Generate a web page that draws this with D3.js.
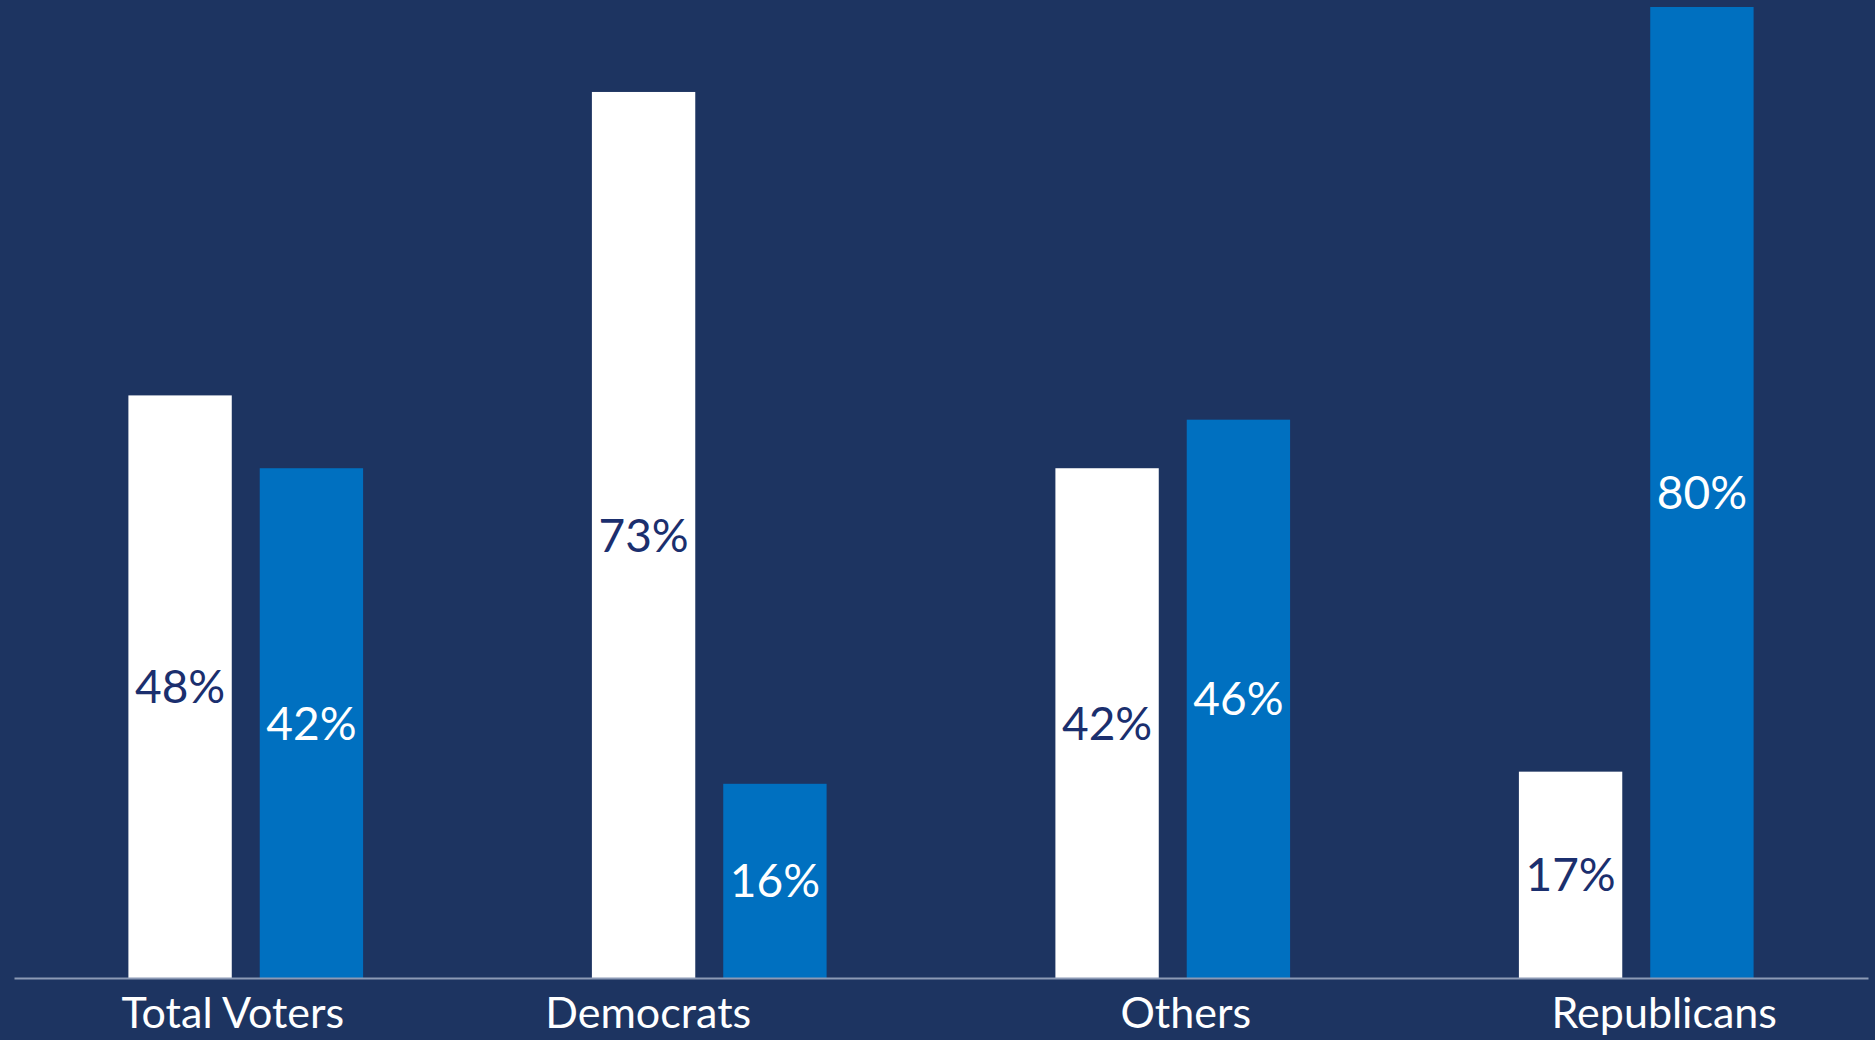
<!DOCTYPE html>
<html>

<head>
  <script type="text/javascript" src="https://cdn.jsdelivr.net/npm/d3@7/dist/d3.min.js"></script>
  <style>
    body { margin: 0; background: #1d3461; }
    svg { display: block; }
  </style>
</head>

<body>
  <svg></svg>
</body>
<script>
  const groups = ['Total Voters', 'Democrats', 'Others', 'Republicans'];
  const series = ['white', 'blue'];
  const whiteValues = [48, 73, 42, 17];
  const blueValues = [42, 16, 46, 80];

  const mydata = groups.map((g, i) => ({ group: g, white: whiteValues[i], blue: blueValues[i] }));

  const width = 1875;
  const height = 1040;
  const baseline = 978;

  // labels in the original sit a bit off the group centre
  const labelShift = [-13, -61, 13, 28];

  const svg = d3.select('svg')
    .attr('width', width)
    .attr('height', height);

  svg.append('rect')
    .attr('width', width)
    .attr('height', height)
    .attr('fill', '#1d3461');

  //scales
  const x0 = d3.scaleBand()
    .domain(groups)
    .range([14, 1868])
    .padding(0);

  const x1 = d3.scaleBand()
    .domain(series)
    .range([0, x0.bandwidth()])
    .paddingInner(0.213)
    .paddingOuter(0.871);

  const yScale = d3.scaleLinear()
    .domain([0, 80])
    .range([baseline, 7]);

  const fill = { white: '#ffffff', blue: '#0070c0' };
  const textFill = { white: '#1b2f6e', blue: '#ffffff' };

  const barGroups = svg.selectAll('.grp')
    .data(mydata)
    .enter()
    .append('g')
    .attr('class', 'grp')
    .attr('transform', (d) => `translate(${x0(d.group)}, 0)`);

  const cells = barGroups.selectAll('g')
    .data((d) => series.map((s) => ({ key: s, value: d[s] })))
    .enter()
    .append('g');

  cells.append('rect')
    .attr('x', (d) => x1(d.key))
    .attr('y', (d) => yScale(d.value))
    .attr('width', x1.bandwidth())
    .attr('height', (d) => baseline - yScale(d.value))
    .attr('fill', (d) => fill[d.key]);

  cells.append('text')
    .attr('x', (d) => x1(d.key) + x1.bandwidth() / 2)
    .attr('y', (d) => (yScale(d.value) + baseline) / 2)
    .attr('dy', '0.36em')
    .attr('text-anchor', 'middle')
    .attr('fill', (d) => textFill[d.key])
    .style('font-family', 'Lato, sans-serif')
    .style('font-size', '46px')
    .text((d) => `${d.value}%`);

  //xaxis
  const xAxis = svg.append('g')
    .attr('transform', `translate(0, ${baseline})`)
    .call(d3.axisBottom(x0).tickSize(0).tickPadding(0));

  xAxis.select('.domain')
    .attr('stroke', '#8c9ab5')
    .attr('stroke-width', 2);

  xAxis.selectAll('.tick text')
    .attr('y', 50)
    .attr('dy', 0)
    .attr('dx', (d, i) => labelShift[i])
    .attr('fill', '#ffffff')
    .style('font-family', 'Lato, sans-serif')
    .style('font-size', '43px');
</script>

</html>
